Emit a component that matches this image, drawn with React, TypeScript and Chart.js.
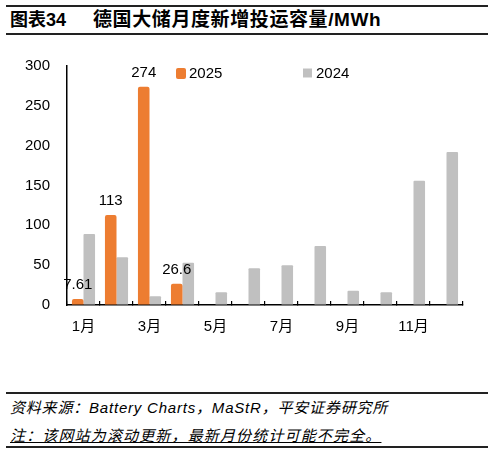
import React, { useEffect, useRef } from "react";
import { Chart, registerables } from "chart.js";

Chart.register(...registerables);

const months = ["1月", "2月", "3月", "4月", "5月", "6月", "7月", "8月", "9月", "10月", "11月", "12月"];
const values2025 = [7.61, 113, 274, 26.6];
const values2024 = [89, 60, 11, 53, 16, 46, 50, 74, 18, 16, 156, 192];
const yTicks = [0, 50, 100, 150, 200, 250, 300];

const FONT = '"Liberation Sans", "Noto Sans CJK SC", sans-serif';
const ORANGE = "#ED7D31";
const GRAY = "#C0C0C0";

// value labels above the 2025 bars
const valueLabels = {
  id: "valueLabels",
  afterDatasetsDraw(chart: any) {
    const ctx = chart.ctx;
    const meta = chart.getDatasetMeta(0);
    ctx.save();
    ctx.font = `15px ${FONT}`;
    ctx.fillStyle = "#000";
    ctx.textAlign = "center";
    ctx.textBaseline = "alphabetic";
    meta.data.forEach((bar: any, i: number) => {
      const v = chart.data.datasets[0].data[i];
      if (v == null) return;
      ctx.fillText(String(v), bar.x, bar.y - 10);
    });
    ctx.restore();
  },
};

// two legend items spread apart, like the source
const spreadLegend = {
  id: "spreadLegend",
  afterDraw(chart: any) {
    const { ctx, chartArea } = chart;
    const cx = (chartArea.left + chartArea.right) / 2;
    const y = chartArea.top + 7;
    const starts = [cx - 89, cx + 38];
    ctx.save();
    ctx.font = `15px ${FONT}`;
    ctx.textBaseline = "middle";
    ctx.textAlign = "left";
    chart.data.datasets.forEach((ds: any, i: number) => {
      const x = starts[i];
      ctx.fillStyle = ds.backgroundColor;
      ctx.beginPath();
      if (i === 0) ctx.roundRect(x, y - 5, 10, 11, 2);
      else ctx.rect(x, y - 4.5, 9, 9);
      ctx.fill();
      ctx.fillStyle = "#000";
      ctx.fillText(ds.label, x + 13, y + 1);
    });
    ctx.restore();
  },
};

const BarChart: React.FC = () => {
  const canvasRef = useRef<HTMLCanvasElement>(null);

  useEffect(() => {
    if (!canvasRef.current) return;
    const chart = new Chart(canvasRef.current, {
      type: "bar",
      data: {
        labels: months,
        datasets: [
          {
            label: "2025",
            data: values2025,
            backgroundColor: ORANGE,
            borderRadius: 2,
            categoryPercentage: 0.7,
            barPercentage: 1,
          },
          {
            label: "2024",
            data: values2024,
            backgroundColor: GRAY,
            borderRadius: 1,
            categoryPercentage: 0.7,
            barPercentage: 1,
          },
        ],
      },
      options: {
        animation: false,
        responsive: true,
        maintainAspectRatio: false,
        layout: { padding: { top: 25, right: 32, left: 0, bottom: 0 } },
        plugins: {
          legend: { display: false },
          tooltip: { enabled: false },
        },
        scales: {
          x: {
            afterFit: (s: any) => {
              s.height = 45;
            },
            border: { color: "#000", width: 1.5 },
            grid: {
              offset: true,
              drawOnChartArea: false,
              tickLength: -4,
              color: "#000",
              lineWidth: 1.2,
            },
            ticks: {
              autoSkip: false,
              maxRotation: 0,
              padding: 17,
              color: "#000",
              font: { family: FONT, size: 15 },
              callback: (_v: any, i: number) => (i % 2 === 0 ? months[i] : ""),
            },
          },
          y: {
            min: yTicks[0],
            max: yTicks[yTicks.length - 1],
            afterFit: (s: any) => {
              s.width = 67;
            },
            afterBuildTicks: (s: any) => {
              s.ticks = yTicks.map((v) => ({ value: v }));
            },
            border: { color: "#000", width: 1.5 },
            grid: { drawOnChartArea: false, drawTicks: false },
            ticks: {
              padding: 17,
              color: "#000",
              font: { family: FONT, size: 15 },
            },
          },
        },
      },
      plugins: [valueLabels, spreadLegend],
    });
    return () => chart.destroy();
  }, []);

  return <canvas ref={canvasRef} />;
};

export default function App() {
  const line = (top: number, h: number): React.CSSProperties => ({
    position: "absolute",
    left: 6,
    width: 482,
    top,
    height: h,
    background: "#222",
  });
  const titleStyle: React.CSSProperties = {
    position: "absolute",
    top: 7,
    fontWeight: "bold",
    whiteSpace: "pre",
    lineHeight: "26px",
  };
  return (
    <div
      style={{
        position: "fixed",
        left: 0,
        top: 0,
        width: 495,
        height: 454,
        background: "#fff",
        fontFamily: FONT,
        color: "#000",
      }}
    >
      <div style={line(5, 1.5)} />
      <div style={{ ...titleStyle, left: 10, fontSize: 18 }}>图表34</div>
      <div style={{ ...titleStyle, left: 93, fontSize: 19, letterSpacing: 0.6 }}>
        德国大储月度新增投运容量/MWh
      </div>
      <div style={line(33, 2)} />
      <div style={{ position: "absolute", left: 0, top: 40, width: 495, height: 310 }}>
        <BarChart />
      </div>
      <div style={line(392, 2)} />
      <div
        style={{
          position: "absolute",
          left: 10,
          top: 398,
          fontSize: 15,
          fontStyle: "italic",
          whiteSpace: "pre",
          lineHeight: "20px",
          letterSpacing: 0.8,
        }}
      >
        {"资料来源：Battery Charts，MaStR，平安证券研究所"}
      </div>
      <div
        style={{
          position: "absolute",
          left: 10,
          top: 426,
          fontSize: 15,
          fontStyle: "italic",
          whiteSpace: "pre",
          lineHeight: "20px",
          letterSpacing: 1.15,
          textDecoration: "underline",
        }}
      >
        {"注：该网站为滚动更新，最新月份统计可能不完全。"}
      </div>
      <div style={line(446, 2)} />
    </div>
  );
}
